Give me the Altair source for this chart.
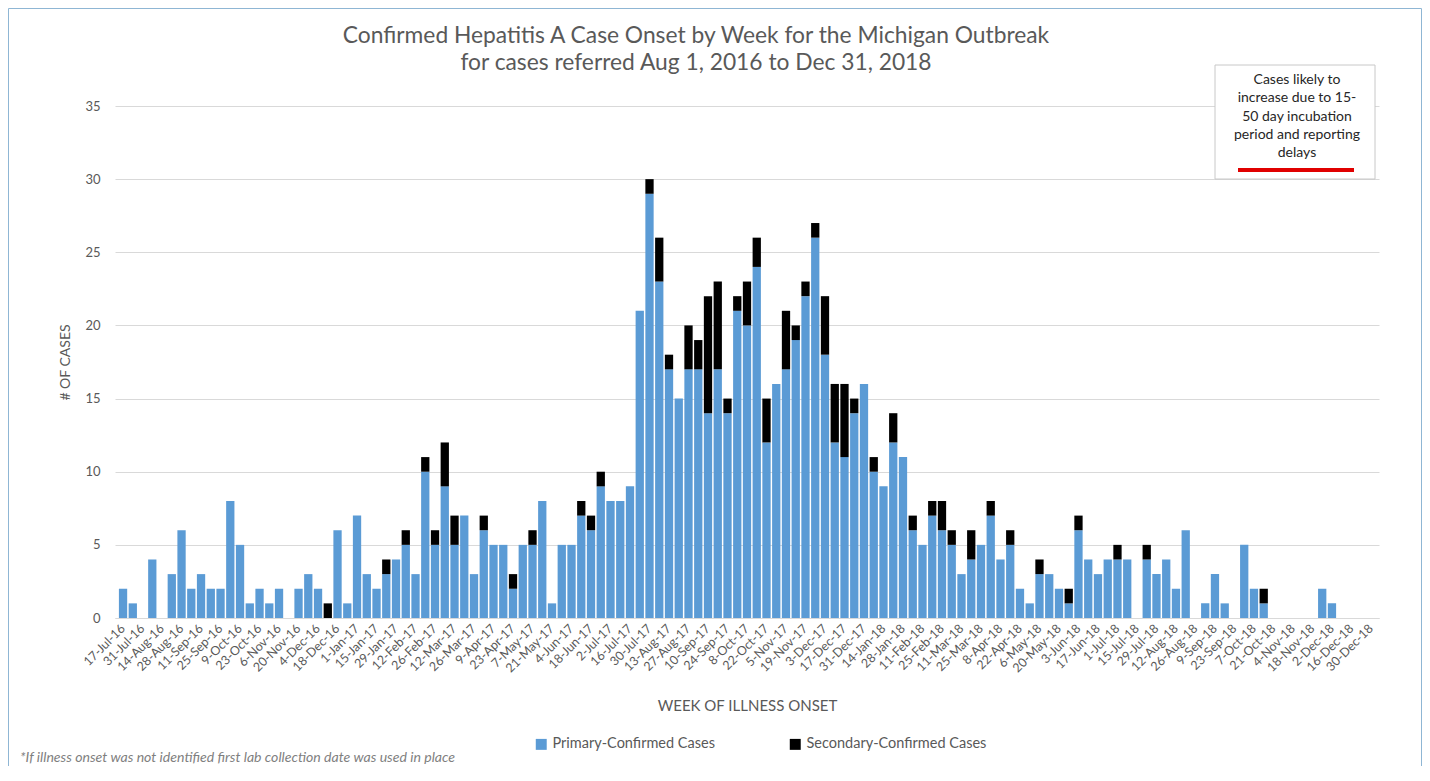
import altair as alt
import pandas as pd

# ---- data ----
PRIMARY = [2, 1, 0, 4, 0, 3, 6, 2, 3, 2, 2, 8, 5, 1, 2, 1, 2, 0, 2, 3,
           2, 0, 6, 1, 7, 3, 2, 3, 4, 5, 3, 10, 5, 9, 5, 7, 3, 6, 5, 5,
           2, 5, 5, 8, 1, 5, 5, 7, 6, 9, 8, 8, 9, 21, 29, 23, 17, 15, 17, 17,
           14, 17, 14, 21, 20, 24, 12, 16, 17, 19, 22, 26, 18, 12, 11, 14, 16, 10, 9, 12,
           11, 6, 5, 7, 6, 5, 3, 4, 5, 7, 4, 5, 2, 1, 3, 3, 2, 1, 6, 4,
           3, 4, 4, 4, 0, 4, 3, 4, 2, 6, 0, 1, 3, 1, 0, 5, 2, 1, 0, 0,
           0, 0, 0, 2, 1, 0, 0, 0, 0]
SECONDARY = [0, 0, 0, 0, 0, 0, 0, 0, 0, 0, 0, 0, 0, 0, 0, 0, 0, 0, 0, 0,
             0, 1, 0, 0, 0, 0, 0, 1, 0, 1, 0, 1, 1, 3, 2, 0, 0, 1, 0, 0,
             1, 0, 1, 0, 0, 0, 0, 1, 1, 1, 0, 0, 0, 0, 1, 3, 1, 0, 3, 2,
             8, 6, 1, 1, 3, 2, 3, 0, 4, 1, 1, 1, 4, 4, 5, 1, 0, 1, 0, 2,
             0, 1, 0, 1, 2, 1, 0, 2, 0, 1, 0, 1, 0, 0, 1, 0, 0, 1, 1, 0,
             0, 0, 1, 0, 0, 1, 0, 0, 0, 0, 0, 0, 0, 0, 0, 0, 0, 1, 0, 0,
             0, 0, 0, 0, 0, 0, 0, 0, 0]

SERIES = ["Primary-Confirmed Cases", "Secondary-Confirmed Cases"]
COLORS = ["#5b9bd5", "#000000"]

WEEK_DATES = pd.date_range("2016-07-17", periods=len(PRIMARY), freq="7D")
WEEKS = [f"{d.day}-{d.strftime('%b')}-{d.strftime('%y')}" for d in WEEK_DATES]
TICK_LABELS = WEEKS[::2]
Y_TICKS = [0, 5, 10, 15, 20, 25, 30, 35]

TITLE_LINES = ["Confirmed Hepatitis A Case Onset by Week for the Michigan Outbreak",
               "for cases referred Aug 1, 2016 to Dec 31, 2018"]
NOTE_LINES = ["Cases likely to", "increase due to 15-", "50 day incubation",
              "period and reporting", "delays"]
FOOTNOTE = "*If illness onset was not identified first lab collection date was used in place"

rows = []
for w, p, s in zip(WEEKS, PRIMARY, SECONDARY):
    rows.append({"week": w, "series": SERIES[0], "count": p, "ord": 0})
    rows.append({"week": w, "series": SERIES[1], "count": s, "ord": 1})
df = pd.DataFrame(rows)

GRAY = "#595959"

bars = alt.Chart(df).mark_bar().encode(
    x=alt.X("week:N", sort=WEEKS,
            scale=alt.Scale(paddingInner=0.15, paddingOuter=0.4),
            axis=alt.Axis(values=TICK_LABELS, labelAngle=-45, labelAlign="right",
                          labelBaseline="middle", labelPadding=8, ticks=False,
                          domainColor="#d9d9d9", labelFontSize=12.5, labelColor=GRAY,
                          labelOverlap=False, grid=False,
                          title="WEEK OF ILLNESS ONSET", titleFontSize=15,
                          titleFontWeight="normal", titleColor=GRAY,
                          titleY=87, titleBaseline="middle")),
    y=alt.Y("count:Q", stack="zero",
            scale=alt.Scale(domain=[0, 35], nice=False),
            axis=alt.Axis(values=Y_TICKS, grid=True, gridColor="#d9d9d9", ticks=False,
                          domain=False, labelPadding=15, labelFontSize=13,
                          labelColor=GRAY, title="# OF CASES", titleFontSize=14,
                          titleFontWeight="normal", titleColor=GRAY,
                          titleX=-50, titleY=256, titleAlign="center",
                          titleBaseline="middle")),
    color=alt.Color("series:N", scale=alt.Scale(domain=SERIES, range=COLORS),
                    legend=alt.Legend(orient="none", legendX=419, legendY=631,
                                      direction="horizontal", title=None,
                                      symbolType="square", symbolSize=120,
                                      symbolStrokeWidth=0, labelFontSize=14.5,
                                      labelColor=GRAY, columnPadding=73,
                                      labelOffset=4, labelLimit=400)),
    order=alt.Order("ord:Q", sort="ascending"),
)

one = alt.Data(values=[{"k": 1}])

title = alt.Chart(one).mark_text(
    align="center", baseline="alphabetic", fontSize=22.8, color=GRAY, lineHeight=27
).encode(x=alt.value(581), y=alt.value(-63), text=alt.value(TITLE_LINES))

box = alt.Chart(one).mark_rect(fill="white", stroke="#c8c8c8", strokeWidth=1).encode(
    x=alt.value(1100), x2=alt.value(1260), y=alt.value(-41), y2=alt.value(73))

box_text = alt.Chart(one).mark_text(
    align="center", baseline="middle", fontSize=14, color="#262626", lineHeight=18.3
).encode(x=alt.value(1182), y=alt.value(-26), text=alt.value(NOTE_LINES))

red_line = alt.Chart(one).mark_rule(color="#e00000", strokeWidth=4).encode(
    x=alt.value(1123), x2=alt.value(1239), y=alt.value(64))

FRAME = "#8fb6d4"
frame_left = alt.Chart(one).mark_rule(color=FRAME, strokeWidth=1).encode(
    x=alt.value(-106.5), y=alt.value(-97.5), y2=alt.value(660))
frame_top = alt.Chart(one).mark_rule(color=FRAME, strokeWidth=1).encode(
    x=alt.value(-106.5), x2=alt.value(1306.5), y=alt.value(-97.5))
frame_right = alt.Chart(one).mark_rule(color=FRAME, strokeWidth=1).encode(
    x=alt.value(1306.5), y=alt.value(-97.5), y2=alt.value(660))

foot = alt.Chart(alt.Data(values=[{"t": FOOTNOTE}])).mark_text(
    align="left", baseline="alphabetic", fontSize=14.1, fontStyle="italic", color="#7f7f7f"
).encode(x=alt.value(-95), y=alt.value(656), text="t:N")

chart = alt.layer(
    bars, title, box, box_text, red_line, frame_left, frame_top, frame_right, foot
).properties(
    width=1264, height=512,
    autosize=alt.AutoSizeParams(type="none"),
    padding={"left": 107, "top": 98, "right": 43, "bottom": 152},
).configure(font="Lato").configure_view(strokeWidth=0)

chart.save("out.html", embed_options={"renderer": "svg", "actions": False})
